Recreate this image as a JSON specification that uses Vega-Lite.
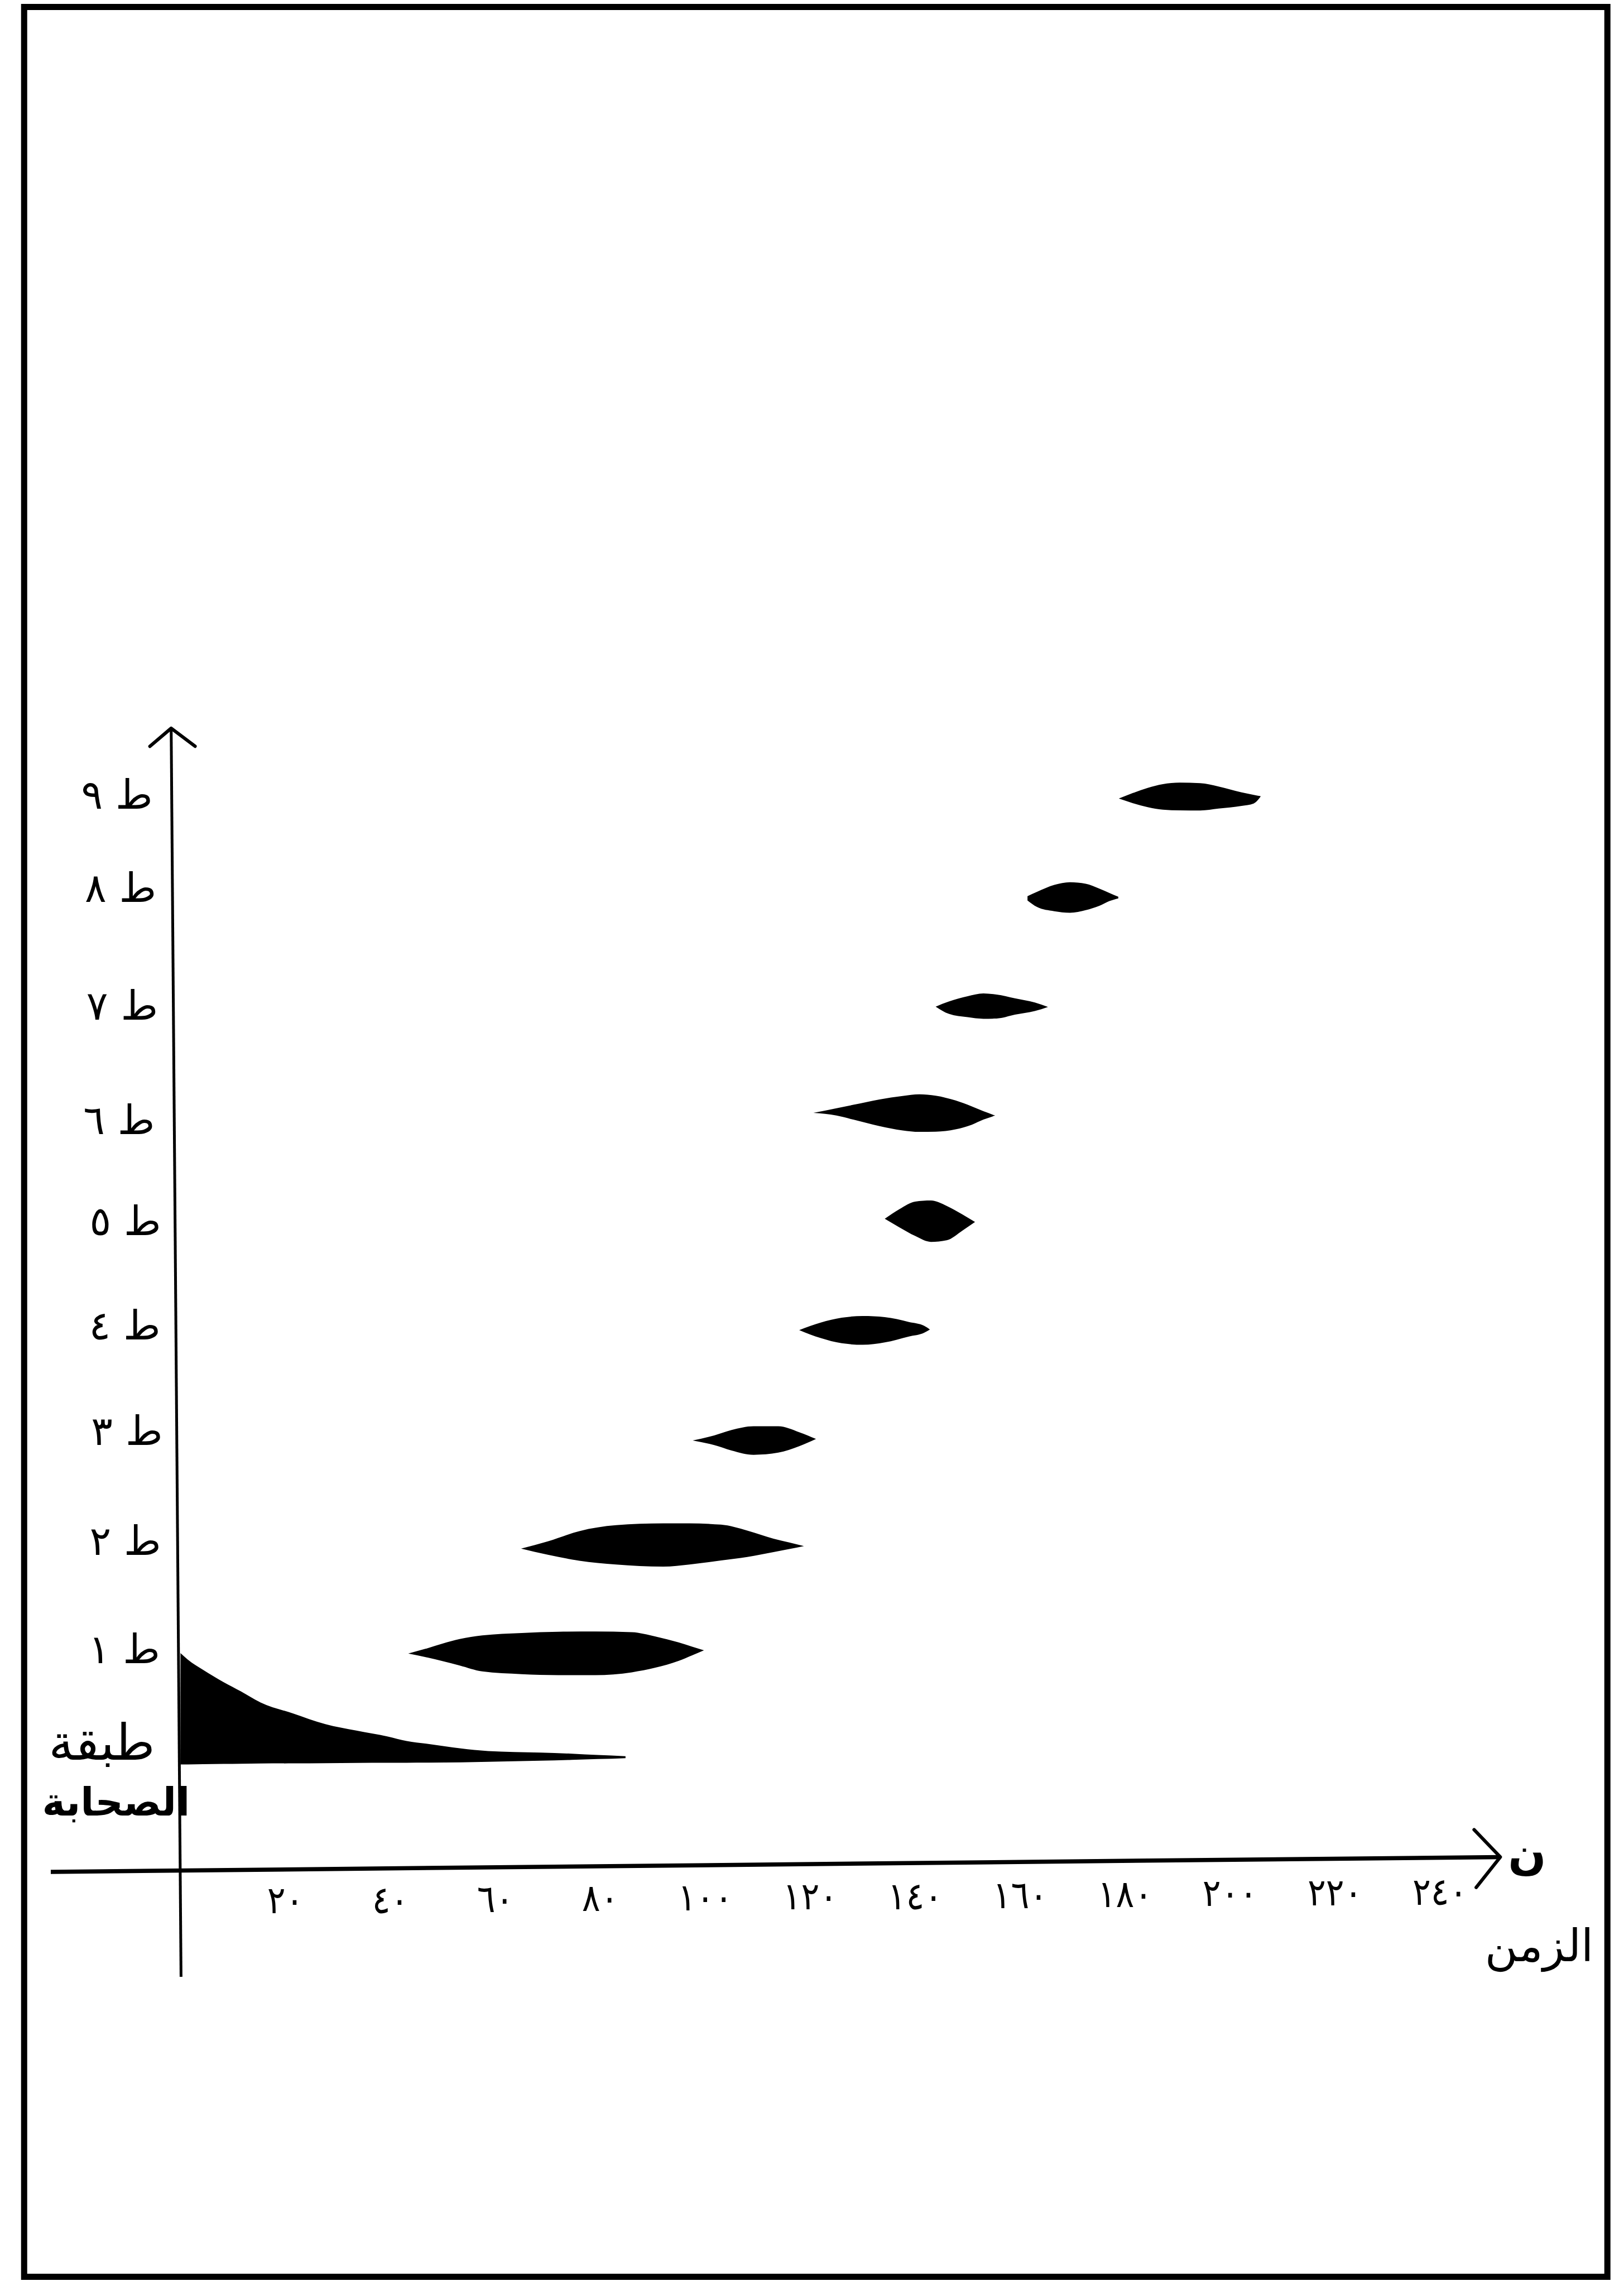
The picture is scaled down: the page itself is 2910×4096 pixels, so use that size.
{
  "$schema": "https://vega.github.io/schema/vega-lite/v6.json",
  "width": 2599,
  "height": 2236,
  "autosize": {"type": "none"},
  "padding": {"left": 91, "top": 1306, "right": 220, "bottom": 554},
  "background": "white",
  "config": {"view": {"stroke": null}},
  "datasets": {
    "lens": [
      {"g": "0", "t": 0, "hi": 0.99, "lo": -0.045},
      {"g": "0", "t": 1.4, "hi": 0.93, "lo": -0.045},
      {"g": "0", "t": 4.3, "hi": 0.835, "lo": -0.042},
      {"g": "0", "t": 8.2, "hi": 0.721, "lo": -0.04},
      {"g": "0", "t": 11.5, "hi": 0.635, "lo": -0.038},
      {"g": "0", "t": 15.2, "hi": 0.533, "lo": -0.036},
      {"g": "0", "t": 21.4, "hi": 0.43, "lo": -0.035},
      {"g": "0", "t": 27.6, "hi": 0.33, "lo": -0.033},
      {"g": "0", "t": 33.5, "hi": 0.27, "lo": -0.031},
      {"g": "0", "t": 39.5, "hi": 0.215, "lo": -0.03},
      {"g": "0", "t": 43.1, "hi": 0.173, "lo": -0.029},
      {"g": "0", "t": 47.4, "hi": 0.145, "lo": -0.028},
      {"g": "0", "t": 53.4, "hi": 0.104, "lo": -0.025},
      {"g": "0", "t": 58.6, "hi": 0.08, "lo": -0.02},
      {"g": "0", "t": 68.6, "hi": 0.065, "lo": -0.01},
      {"g": "0", "t": 74.6, "hi": 0.055, "lo": -0.002},
      {"g": "0", "t": 79.5, "hi": 0.043, "lo": 0.005},
      {"g": "0", "t": 84.8, "hi": 0.032, "lo": 0.014},

      {"g": "1", "t": 43.4, "hi": 0.986, "lo": 0.986},
      {"g": "1", "t": 47, "hi": 1.035, "lo": 0.95},
      {"g": "1", "t": 50, "hi": 1.08, "lo": 0.915},
      {"g": "1", "t": 53.2, "hi": 1.121, "lo": 0.875},
      {"g": "1", "t": 57.5, "hi": 1.155, "lo": 0.82},
      {"g": "1", "t": 65, "hi": 1.178, "lo": 0.795},
      {"g": "1", "t": 72, "hi": 1.189, "lo": 0.786},
      {"g": "1", "t": 79, "hi": 1.192, "lo": 0.786},
      {"g": "1", "t": 86, "hi": 1.185, "lo": 0.812},
      {"g": "1", "t": 90.5, "hi": 1.145, "lo": 0.855},
      {"g": "1", "t": 94.9, "hi": 1.09, "lo": 0.918},
      {"g": "1", "t": 97.5, "hi": 1.05, "lo": 0.97},
      {"g": "1", "t": 99.75, "hi": 1.016, "lo": 1.016},

      {"g": "2", "t": 64.9, "hi": 1.962, "lo": 1.962},
      {"g": "2", "t": 70, "hi": 2.03, "lo": 1.905},
      {"g": "2", "t": 76, "hi": 2.125, "lo": 1.85},
      {"g": "2", "t": 83, "hi": 2.18, "lo": 1.815},
      {"g": "2", "t": 92, "hi": 2.197, "lo": 1.795},
      {"g": "2", "t": 97, "hi": 2.197, "lo": 1.815},
      {"g": "2", "t": 103, "hi": 2.185, "lo": 1.852},
      {"g": "2", "t": 108, "hi": 2.13, "lo": 1.885},
      {"g": "2", "t": 113, "hi": 2.055, "lo": 1.93},
      {"g": "2", "t": 116, "hi": 2.02, "lo": 1.958},
      {"g": "2", "t": 118.8, "hi": 1.986, "lo": 1.986},

      {"g": "3", "t": 97.6, "hi": 2.968, "lo": 2.968},
      {"g": "3", "t": 101.7, "hi": 3.015, "lo": 2.925},
      {"g": "3", "t": 105, "hi": 3.065, "lo": 2.875},
      {"g": "3", "t": 109.2, "hi": 3.1, "lo": 2.835},
      {"g": "3", "t": 113.9, "hi": 3.1, "lo": 2.855},
      {"g": "3", "t": 117.9, "hi": 3.045, "lo": 2.915},
      {"g": "3", "t": 121.1, "hi": 2.982, "lo": 2.982},

      {"g": "4", "t": 117.9, "hi": 3.995, "lo": 3.995},
      {"g": "4", "t": 122, "hi": 4.065, "lo": 3.92},
      {"g": "4", "t": 126, "hi": 4.11, "lo": 3.872},
      {"g": "4", "t": 130, "hi": 4.125, "lo": 3.858},
      {"g": "4", "t": 134.2, "hi": 4.115, "lo": 3.88},
      {"g": "4", "t": 138.8, "hi": 4.07, "lo": 3.935},
      {"g": "4", "t": 141.7, "hi": 4.035, "lo": 3.97},
      {"g": "4", "t": 142.8, "hi": 4.0, "lo": 4.0},

      {"g": "5", "t": 134.2, "hi": 5.03, "lo": 5.03},
      {"g": "5", "t": 137, "hi": 5.12, "lo": 4.95},
      {"g": "5", "t": 140, "hi": 5.19, "lo": 4.87},
      {"g": "5", "t": 143, "hi": 5.2, "lo": 4.815},
      {"g": "5", "t": 146, "hi": 5.15, "lo": 4.83},
      {"g": "5", "t": 149, "hi": 5.07, "lo": 4.92},
      {"g": "5", "t": 151.4, "hi": 5.0, "lo": 5.0},

      {"g": "6", "t": 120.6, "hi": 6.015, "lo": 6.015},
      {"g": "6", "t": 125, "hi": 6.058, "lo": 5.99},
      {"g": "6", "t": 128.2, "hi": 6.09, "lo": 5.952},
      {"g": "6", "t": 133.2, "hi": 6.14, "lo": 5.892},
      {"g": "6", "t": 137.6, "hi": 6.172, "lo": 5.852},
      {"g": "6", "t": 140.8, "hi": 6.188, "lo": 5.838},
      {"g": "6", "t": 143.9, "hi": 6.175, "lo": 5.84},
      {"g": "6", "t": 147.7, "hi": 6.13, "lo": 5.862},
      {"g": "6", "t": 150.8, "hi": 6.075, "lo": 5.905},
      {"g": "6", "t": 153, "hi": 6.03, "lo": 5.952},
      {"g": "6", "t": 155.25, "hi": 5.99, "lo": 5.99},

      {"g": "7", "t": 143.9, "hi": 7.003, "lo": 7.003},
      {"g": "7", "t": 146.4, "hi": 7.05, "lo": 6.936},
      {"g": "7", "t": 150, "hi": 7.1, "lo": 6.905},
      {"g": "7", "t": 153, "hi": 7.126, "lo": 6.89},
      {"g": "7", "t": 155.5, "hi": 7.115, "lo": 6.892},
      {"g": "7", "t": 159, "hi": 7.08, "lo": 6.928},
      {"g": "7", "t": 162.8, "hi": 7.041, "lo": 6.962},
      {"g": "7", "t": 165.3, "hi": 7.0, "lo": 7.0},

      {"g": "8", "t": 161.4, "hi": 8.03, "lo": 7.99},
      {"g": "8", "t": 163.2, "hi": 8.07, "lo": 7.93},
      {"g": "8", "t": 166.5, "hi": 8.135, "lo": 7.89},
      {"g": "8", "t": 169.5, "hi": 8.16, "lo": 7.876},
      {"g": "8", "t": 172.5, "hi": 8.146, "lo": 7.9},
      {"g": "8", "t": 175.1, "hi": 8.1, "lo": 7.94},
      {"g": "8", "t": 177, "hi": 8.06, "lo": 7.985},
      {"g": "8", "t": 178.7, "hi": 8.025, "lo": 8.01},

      {"g": "9", "t": 178.8, "hi": 8.938, "lo": 8.938},
      {"g": "9", "t": 181.5, "hi": 8.99, "lo": 8.895},
      {"g": "9", "t": 184.3, "hi": 9.037, "lo": 8.858},
      {"g": "9", "t": 187.2, "hi": 9.072, "lo": 8.835},
      {"g": "9", "t": 190.4, "hi": 9.086, "lo": 8.828},
      {"g": "9", "t": 194.3, "hi": 9.081, "lo": 8.827},
      {"g": "9", "t": 197.8, "hi": 9.05, "lo": 8.845},
      {"g": "9", "t": 202.2, "hi": 8.995, "lo": 8.87},
      {"g": "9", "t": 204.5, "hi": 8.972, "lo": 8.892},
      {"g": "9", "t": 205.8, "hi": 8.96, "lo": 8.955}
    ],
    "frame": [{"xa": -29.8, "xb": 271.9, "ya": -4.81, "yb": 16.3}],
    "axisx": [{"xa": -24.72, "ya": -1.044, "xb": 251.5, "yb": -0.906}],
    "axisy": [{"xa": -1.78, "ya": 9.592, "xb": 0.1, "yb": -2.02}],
    "arrows": [
      {"a": "top", "k": 0, "t": -5.83, "L": 9.424},
      {"a": "top", "k": 1, "t": -1.78, "L": 9.592},
      {"a": "top", "k": 2, "t": 2.78, "L": 9.424},
      {"a": "right", "k": 0, "t": 246.5, "L": -0.652},
      {"a": "right", "k": 1, "t": 251.5, "L": -0.906},
      {"a": "right", "k": 2, "t": 246.9, "L": -1.189}
    ],
    "ticks": [
      {"t": 20, "lab": "٢٠", "L": -1.43},
      {"t": 40, "lab": "٤٠", "L": -1.43},
      {"t": 60, "lab": "٦٠", "L": -1.42},
      {"t": 80, "lab": "٨٠", "L": -1.41},
      {"t": 100, "lab": "١٠٠", "L": -1.4},
      {"t": 120, "lab": "١٢٠", "L": -1.39},
      {"t": 140, "lab": "١٤٠", "L": -1.39},
      {"t": 160, "lab": "١٦٠", "L": -1.38},
      {"t": 180, "lab": "١٨٠", "L": -1.37},
      {"t": 200, "lab": "٢٠٠", "L": -1.36},
      {"t": 220, "lab": "٢٢٠", "L": -1.355},
      {"t": 240, "lab": "٢٤٠", "L": -1.35}
    ],
    "ylabels": [
      {"lab": "ط ٩", "t": -5.3, "L": 8.846},
      {"lab": "ط ٨", "t": -4.6, "L": 7.976},
      {"lab": "ط ٧", "t": -4.3, "L": 6.881},
      {"lab": "ط ٦", "t": -4.9, "L": 5.817},
      {"lab": "ط ٥", "t": -3.7, "L": 4.878},
      {"lab": "ط ٤", "t": -3.8, "L": 3.905},
      {"lab": "ط ٣", "t": -3.4, "L": 2.925},
      {"lab": "ط ٢", "t": -3.7, "L": 1.902},
      {"lab": "ط ١", "t": -3.9, "L": 0.895}
    ],
    "sahaba1": [{"lab": "طبقة", "t": -15, "L": 0.0}],
    "sahaba2": [{"lab": "الصحابة", "t": -12.3, "L": -0.52}],
    "nun": [{"lab": "ن", "t": 256.6, "L": -0.895}],
    "zaman": [{"lab": "الزمن", "t": 258.9, "L": -1.75}]
  },
  "layer": [
    {
      "data": {"name": "frame"},
      "mark": {"type": "rect", "fill": null, "stroke": "black", "strokeWidth": 11},
      "encoding": {
        "x": {"field": "xa", "type": "quantitative", "scale": {"domain": [-24.72, 251.67], "nice": false, "zero": false}, "axis": null},
        "x2": {"field": "xb"},
        "y": {"field": "ya", "type": "quantitative", "scale": {"domain": [-2.02, 9.586], "nice": false, "zero": false}, "axis": null},
        "y2": {"field": "yb"}
      }
    },
    {
      "data": {"name": "lens"},
      "mark": {"type": "area", "color": "black", "interpolate": "monotone", "opacity": 1},
      "encoding": {
        "x": {"field": "t", "type": "quantitative", "scale": {"domain": [-24.72, 251.67], "nice": false, "zero": false}, "axis": null},
        "y": {"field": "hi", "type": "quantitative", "stack": null, "scale": {"domain": [-2.02, 9.586], "nice": false, "zero": false}, "axis": null},
        "y2": {"field": "lo"},
        "detail": {"field": "g", "type": "nominal"}
      }
    },
    {
      "data": {"name": "axisx"},
      "mark": {"type": "rule", "color": "black", "strokeWidth": 7.5},
      "encoding": {
        "x": {"field": "xa", "type": "quantitative", "scale": {"domain": [-24.72, 251.67], "nice": false, "zero": false}, "axis": null},
        "x2": {"field": "xb"},
        "y": {"field": "ya", "type": "quantitative", "scale": {"domain": [-2.02, 9.586], "nice": false, "zero": false}, "axis": null},
        "y2": {"field": "yb"}
      }
    },
    {
      "data": {"name": "axisy"},
      "mark": {"type": "rule", "color": "black", "strokeWidth": 5},
      "encoding": {
        "x": {"field": "xa", "type": "quantitative", "scale": {"domain": [-24.72, 251.67], "nice": false, "zero": false}, "axis": null},
        "x2": {"field": "xb"},
        "y": {"field": "ya", "type": "quantitative", "scale": {"domain": [-2.02, 9.586], "nice": false, "zero": false}, "axis": null},
        "y2": {"field": "yb"}
      }
    },
    {
      "data": {"name": "arrows"},
      "mark": {"type": "line", "color": "black", "strokeWidth": 6, "strokeCap": "round", "strokeJoin": "round"},
      "encoding": {
        "x": {"field": "t", "type": "quantitative", "scale": {"domain": [-24.72, 251.67], "nice": false, "zero": false}, "axis": null},
        "y": {"field": "L", "type": "quantitative", "scale": {"domain": [-2.02, 9.586], "nice": false, "zero": false}, "axis": null},
        "detail": {"field": "a", "type": "nominal"},
        "order": {"field": "k", "type": "quantitative"}
      }
    },
    {
      "data": {"name": "ticks"},
      "mark": {"type": "text", "align": "center", "baseline": "alphabetic", "font": "DejaVu Sans Condensed, DejaVu Sans", "fontSize": 68, "color": "black"},
      "encoding": {
        "x": {"field": "t", "type": "quantitative", "scale": {"domain": [-24.72, 251.67], "nice": false, "zero": false}, "axis": null},
        "y": {"field": "L", "type": "quantitative", "scale": {"domain": [-2.02, 9.586], "nice": false, "zero": false}, "axis": null},
        "text": {"field": "lab"}
      }
    },
    {
      "data": {"name": "ylabels"},
      "mark": {"type": "text", "align": "right", "baseline": "alphabetic", "font": "DejaVu Sans", "fontSize": 72, "color": "black"},
      "encoding": {
        "x": {"field": "t", "type": "quantitative", "scale": {"domain": [-24.72, 251.67], "nice": false, "zero": false}, "axis": null},
        "y": {"field": "L", "type": "quantitative", "scale": {"domain": [-2.02, 9.586], "nice": false, "zero": false}, "axis": null},
        "text": {"field": "lab"}
      }
    },
    {
      "data": {"name": "sahaba1"},
      "mark": {"type": "text", "align": "center", "baseline": "alphabetic", "font": "DejaVu Sans", "fontSize": 89, "color": "black"},
      "encoding": {
        "x": {"field": "t", "type": "quantitative", "scale": {"domain": [-24.72, 251.67], "nice": false, "zero": false}, "axis": null},
        "y": {"field": "L", "type": "quantitative", "scale": {"domain": [-2.02, 9.586], "nice": false, "zero": false}, "axis": null},
        "text": {"field": "lab"}
      }
    },
    {
      "data": {"name": "sahaba2"},
      "mark": {"type": "text", "align": "center", "baseline": "alphabetic", "font": "DejaVu Sans", "fontWeight": "bold", "fontSize": 70, "color": "black"},
      "encoding": {
        "x": {"field": "t", "type": "quantitative", "scale": {"domain": [-24.72, 251.67], "nice": false, "zero": false}, "axis": null},
        "y": {"field": "L", "type": "quantitative", "scale": {"domain": [-2.02, 9.586], "nice": false, "zero": false}, "axis": null},
        "text": {"field": "lab"}
      }
    },
    {
      "data": {"name": "nun"},
      "mark": {"type": "text", "align": "center", "baseline": "middle", "font": "DejaVu Sans", "fontWeight": "bold", "fontSize": 80, "color": "black"},
      "encoding": {
        "x": {"field": "t", "type": "quantitative", "scale": {"domain": [-24.72, 251.67], "nice": false, "zero": false}, "axis": null},
        "y": {"field": "L", "type": "quantitative", "scale": {"domain": [-2.02, 9.586], "nice": false, "zero": false}, "axis": null},
        "text": {"field": "lab"}
      }
    },
    {
      "data": {"name": "zaman"},
      "mark": {"type": "text", "align": "center", "baseline": "middle", "font": "DejaVu Sans", "fontSize": 80, "color": "black"},
      "encoding": {
        "x": {"field": "t", "type": "quantitative", "scale": {"domain": [-24.72, 251.67], "nice": false, "zero": false}, "axis": null},
        "y": {"field": "L", "type": "quantitative", "scale": {"domain": [-2.02, 9.586], "nice": false, "zero": false}, "axis": null},
        "text": {"field": "lab"}
      }
    }
  ]
}
